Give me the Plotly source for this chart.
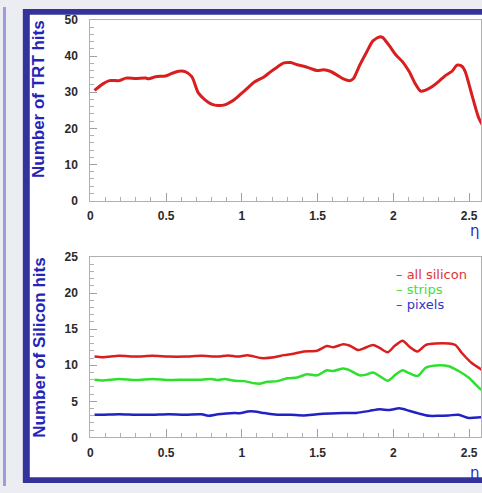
import plotly.graph_objects as go

# ---- data ----
trt_eta = [0.028, 0.083, 0.126, 0.191, 0.235, 0.300, 0.365, 0.387, 0.430, 0.496, 0.539, 0.583, 0.626, 0.670,
           0.713, 0.757, 0.800, 0.843, 0.887, 0.952, 0.996, 1.039, 1.083, 1.148, 1.191, 1.235, 1.278, 1.322,
           1.365, 1.409, 1.452, 1.496, 1.539, 1.583, 1.626, 1.670, 1.713, 1.735, 1.778, 1.822, 1.865, 1.909,
           1.930, 1.974, 2.017, 2.061, 2.104, 2.148, 2.180, 2.213, 2.257, 2.300, 2.343, 2.387, 2.420, 2.452,
           2.474, 2.517, 2.561, 2.593]
trt_hits = [30.5, 32.3, 33.2, 33.2, 33.9, 33.8, 33.9, 33.7, 34.3, 34.5, 35.2, 35.8, 35.7, 34.3,
            29.8, 27.9, 26.7, 26.3, 26.5, 28.0, 29.6, 31.2, 32.8, 34.3, 35.7, 37.0, 38.1, 38.2,
            37.6, 37.2, 36.6, 36.0, 36.2, 35.8, 34.8, 33.7, 33.2, 33.7, 37.5, 41.0, 44.2, 45.3,
            45.1, 42.8, 40.3, 38.4, 35.7, 32.1, 30.3, 30.6, 31.6, 33.0, 34.6, 35.8, 37.5, 37.2,
            35.7, 29.4, 23.1, 20.5]

all_eta = [0.028, 0.083, 0.191, 0.300, 0.409, 0.517, 0.626, 0.735, 0.843, 0.909, 0.974, 1.039, 1.126,
           1.213, 1.278, 1.343, 1.409, 1.496, 1.561, 1.604, 1.670, 1.713, 1.767, 1.800, 1.865, 1.909,
           1.963, 2.007, 2.061, 2.104, 2.159, 2.213, 2.278, 2.365, 2.409, 2.452, 2.517, 2.574, 2.604]
all_silicon = [11.2, 11.1, 11.3, 11.2, 11.3, 11.2, 11.2, 11.3, 11.2, 11.35, 11.2, 11.4, 11.0,
               11.1, 11.4, 11.6, 11.9, 12.0, 12.66, 12.5, 12.9, 12.7, 12.1, 12.3, 12.8, 12.4,
               11.8, 12.66, 13.4, 12.6, 11.9, 12.8, 13.0, 13.0, 12.8, 11.7, 10.3, 9.5, 9.0]

strips_eta = [0.028, 0.083, 0.191, 0.300, 0.409, 0.517, 0.626, 0.735, 0.800, 0.843, 0.887, 0.952, 1.017,
              1.083, 1.115, 1.170, 1.235, 1.300, 1.365, 1.430, 1.496, 1.561, 1.604, 1.670, 1.713, 1.778,
              1.822, 1.865, 1.909, 1.963, 2.017, 2.061, 2.104, 2.159, 2.213, 2.278, 2.365, 2.430, 2.496,
              2.574, 2.604]
strips = [8.0, 7.9, 8.1, 7.95, 8.1, 7.95, 8.0, 8.0, 8.1, 7.95, 8.1, 7.85, 7.8,
          7.5, 7.45, 7.7, 7.8, 8.2, 8.3, 8.75, 8.6, 9.3, 9.2, 9.56, 9.3, 8.6,
          8.7, 9.0, 8.5, 7.85, 8.75, 9.3, 8.9, 8.5, 9.65, 9.96, 9.87, 9.2, 8.3,
          6.7, 6.3]

pixels_eta = [0.028, 0.083, 0.191, 0.300, 0.409, 0.517, 0.626, 0.735, 0.778, 0.843, 0.952, 0.996, 1.039,
              1.083, 1.148, 1.235, 1.322, 1.409, 1.496, 1.583, 1.670, 1.757, 1.843, 1.909, 1.974, 2.039,
              2.104, 2.170, 2.235, 2.300, 2.365, 2.430, 2.496, 2.574, 2.604]
pixels = [3.14, 3.14, 3.2, 3.14, 3.14, 3.2, 3.14, 3.2, 3.0, 3.2, 3.37, 3.37, 3.6,
          3.6, 3.37, 3.14, 3.14, 3.05, 3.2, 3.3, 3.37, 3.4, 3.68, 3.9, 3.8, 4.04,
          3.7, 3.3, 3.0, 3.0, 3.05, 3.14, 2.7, 2.78, 2.8]

x_ticks = [0, 0.5, 1, 1.5, 2, 2.5]
x_tick_labels = ["0", "0.5", "1", "1.5", "2", "2.5"]
trt_ticks = [0, 10, 20, 30, 40, 50]
si_ticks = [0, 5, 10, 15, 20, 25]
legend_names = ["all silicon", "strips", "pixels"]

W, H = 482, 493
RED, GREEN, BLUE = "#d81e1e", "#2ee02e", "#2222c4"
TITLE_BLUE = "#2424b8"

fig = go.Figure()
fig.add_trace(go.Scatter(x=trt_eta, y=trt_hits, mode="lines", line=dict(color=RED, width=3, shape="spline", smoothing=0.7),
                         xaxis="x", yaxis="y", showlegend=False))
fig.add_trace(go.Scatter(x=all_eta, y=all_silicon, mode="lines", name=legend_names[0],
                         line=dict(color=RED, width=2.5, shape="spline", smoothing=0.7), xaxis="x2", yaxis="y2", showlegend=False))
fig.add_trace(go.Scatter(x=strips_eta, y=strips, mode="lines", name=legend_names[1],
                         line=dict(color=GREEN, width=2.5, shape="spline", smoothing=0.7), xaxis="x2", yaxis="y2", showlegend=False))
fig.add_trace(go.Scatter(x=pixels_eta, y=pixels, mode="lines", name=legend_names[2],
                         line=dict(color=BLUE, width=2.5, shape="spline", smoothing=0.7), xaxis="x2", yaxis="y2", showlegend=False))

x0 = 88 / W
xr = [0, (W - 87.3) / 153.1]
tickfont = dict(family="Liberation Sans, Arial", size=12, color="#2a2a2a", weight="bold")

def xaxis(anchor):
    return dict(domain=[x0, 1], range=xr, anchor=anchor, tickvals=x_ticks, ticktext=x_tick_labels,
                ticks="inside", ticklen=8, tickcolor="#a0a0a0", tickwidth=1,
                showline=True, linecolor="#b0b0b0", linewidth=1, mirror=True,
                showgrid=False, zeroline=False, tickfont=tickfont, ticklabelstandoff=4,
                minor=dict(dtick=0.1, tick0=0, ticks="inside", ticklen=4, tickcolor="#b0b0b0"))

def yaxis(anchor, dom, rng, vals, mdt):
    return dict(domain=dom, range=rng, anchor=anchor, tickvals=vals,
                ticks="inside", ticklen=7, tickcolor="#a0a0a0", tickwidth=1,
                showline=True, linecolor="#b0b0b0", linewidth=1, mirror=True,
                showgrid=False, zeroline=False, tickfont=tickfont, ticklabelstandoff=9,
                minor=dict(dtick=mdt, tick0=0, ticks="inside", ticklen=4, tickcolor="#b0b0b0"))

fig.update_layout(
    width=W, height=H, margin=dict(l=0, r=0, t=0, b=0),
    paper_bgcolor="#ececf3", plot_bgcolor="rgba(0,0,0,0)",
    xaxis=xaxis("y"),
    yaxis=yaxis("x", [1 - 199.3 / H, 1 - 13.3 / H], [0, 50], trt_ticks, 2),
    xaxis2=xaxis("y2"),
    yaxis2=yaxis("x2", [1 - 443 / H, 1 - 257.3 / H], [0, 25], si_ticks, 1),
)

def px(x):
    return x / W

def py(y):
    return 1 - y / H

shapes = [
    dict(type="rect", xref="paper", yref="paper", x0=0, x1=px(3), y0=0, y1=1, fillcolor="#9c9cd8", line_width=0, layer="below"),
    dict(type="rect", xref="paper", yref="paper", x0=px(20), x1=1.01, y0=py(490), y1=py(2), fillcolor="#333399", line_width=0, layer="below"),
    dict(type="rect", xref="paper", yref="paper", x0=px(27), x1=1.01, y0=py(484), y1=py(8), fillcolor="#ffffff", line_width=0, layer="below"),
]
fig.update_layout(shapes=shapes)

ann = []
ann.append(dict(x=px(36), y=py(95), xref="paper", yref="paper", text="Number of TRT hits", textangle=-90, showarrow=False,
                font=dict(family="Liberation Sans, Arial", size=17, color=TITLE_BLUE, weight="bold"), xanchor="center", yanchor="middle"))
ann.append(dict(x=px(36), y=py(351), xref="paper", yref="paper", text="Number of Silicon hits", textangle=-90, showarrow=False,
                font=dict(family="Liberation Sans, Arial", size=17, color=TITLE_BLUE, weight="bold"), xanchor="center", yanchor="middle"))
for yy in (231, 480):
    ann.append(dict(x=1, y=py(yy), xref="paper", yref="paper", text="η", showarrow=False,
                    font=dict(family="DejaVu Sans", size=15, color="#2c2cd0"), xanchor="right", yanchor="middle",
                    borderpad=0))
for name, col, yy in zip(legend_names, ["#e03434", "#3ee03e", "#3434c4"], [275.5, 291, 306]):
    ann.append(dict(x=px(394), y=py(yy), xref="paper", yref="paper", text="– " + name, showarrow=False,
                    font=dict(family="DejaVu Sans", size=13, color=col), xanchor="left", yanchor="middle"))
fig.update_layout(annotations=ann)

fig.write_html("out.html")
